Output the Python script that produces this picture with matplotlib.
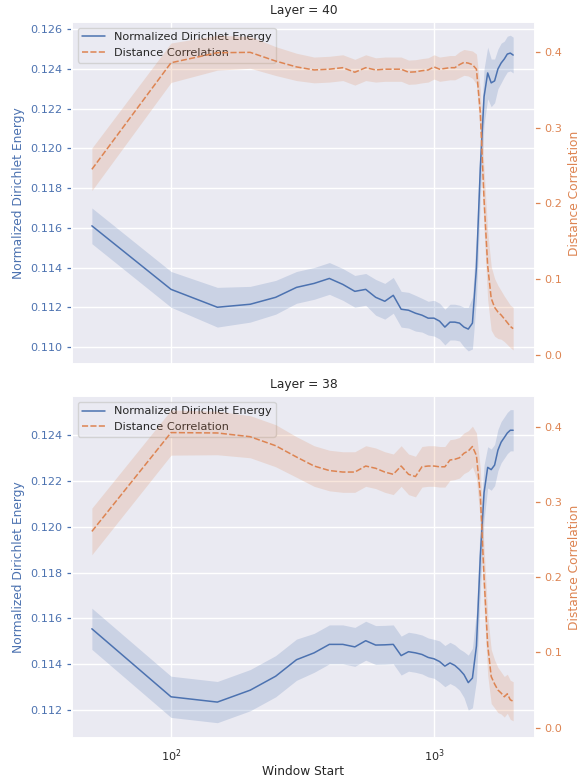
import matplotlib
matplotlib.use("Agg")
import numpy as np
import seaborn as sns
from matplotlib import pyplot as plt

sns.set_theme(style="darkgrid")
plt.rcParams['font.family'] = ['DejaVu Sans']

BLUE = "#4C72B0"
ORANGE = "#DD8452"

window_start = [50, 100, 150, 200, 250, 300, 350, 400, 450, 500,
                550, 600, 650, 700, 750, 800, 850, 900, 950, 1000,
                1050, 1100, 1150, 1200, 1250, 1300, 1350, 1400, 1450, 1500,
                1550, 1600, 1650, 1700, 1750, 1800, 1850, 1900, 1950, 2000]

# Layer 40
energy_40 = [0.1161, 0.1129, 0.1120, 0.11215, 0.1125, 0.1130, 0.1132, 0.11345, 0.11315, 0.1128,
             0.1129, 0.1125, 0.1123, 0.1126, 0.1119, 0.11185, 0.1117, 0.1116, 0.11145, 0.11145,
             0.1113, 0.1110, 0.11125, 0.11125, 0.1112, 0.1110, 0.1109, 0.1112, 0.1140, 0.1190,
             0.1226, 0.1238, 0.1233, 0.1234, 0.1240, 0.1243, 0.1245, 0.12475, 0.1248, 0.1247]
energy_40_err = [0.0009, 0.0009, 0.0010, 0.0009, 0.00085, 0.0008, 0.0008, 0.0008, 0.0008, 0.0008,
                 0.0008, 0.0009, 0.0009, 0.0009, 0.0009, 0.0009, 0.0009, 0.00085, 0.00085, 0.0009,
                 0.0009, 0.0009, 0.0009, 0.0009, 0.0009, 0.0010, 0.0011, 0.0013, 0.0016, 0.0016,
                 0.0014, 0.0013, 0.0012, 0.0011, 0.0010, 0.0010, 0.0009, 0.0009, 0.0009, 0.0009]
dcor_40 = [0.245, 0.3855, 0.3987, 0.3992, 0.3877, 0.380, 0.376, 0.377, 0.379, 0.373,
           0.379, 0.376, 0.377, 0.377, 0.377, 0.373, 0.3735, 0.375, 0.376, 0.380,
           0.377, 0.378, 0.379, 0.379, 0.383, 0.386, 0.385, 0.383, 0.377, 0.320,
           0.205, 0.118, 0.075, 0.063, 0.057, 0.053, 0.048, 0.043, 0.038, 0.035]
dcor_40_err = [0.028, 0.026, 0.023, 0.021, 0.019, 0.018, 0.017, 0.017, 0.017, 0.017,
               0.017, 0.016, 0.016, 0.016, 0.016, 0.016, 0.016, 0.016, 0.016, 0.016,
               0.016, 0.016, 0.016, 0.016, 0.017, 0.017, 0.017, 0.018, 0.020, 0.030,
               0.040, 0.045, 0.042, 0.038, 0.035, 0.032, 0.030, 0.029, 0.028, 0.028]

# Layer 38
energy_38 = [0.11555, 0.11258, 0.11235, 0.11287, 0.11348, 0.1142, 0.1145, 0.11487, 0.11487, 0.11476,
             0.11503, 0.11484, 0.11485, 0.11487, 0.11438, 0.11455, 0.1145, 0.11443, 0.1143, 0.11424,
             0.11412, 0.11392, 0.11406, 0.11395, 0.11377, 0.11355, 0.1132, 0.1134, 0.1148, 0.1187,
             0.1215, 0.1226, 0.1225, 0.1227, 0.12335, 0.1237, 0.1239, 0.1241, 0.12422, 0.12422]
energy_38_err = [0.0009, 0.0009, 0.0009, 0.0009, 0.0009, 0.0009, 0.00085, 0.00085, 0.00085, 0.00085,
                 0.00085, 0.00085, 0.00085, 0.00085, 0.00085, 0.00085, 0.00085, 0.00085, 0.00085, 0.00085,
                 0.0009, 0.0009, 0.0009, 0.0009, 0.0009, 0.0010, 0.0012, 0.0013, 0.0015, 0.0015,
                 0.0012, 0.0009, 0.0009, 0.0009, 0.0009, 0.0009, 0.0009, 0.0009, 0.0009, 0.0009]
dcor_38 = [0.261, 0.3925, 0.392, 0.387, 0.375, 0.360, 0.348, 0.342, 0.340, 0.340,
           0.348, 0.345, 0.340, 0.337, 0.348, 0.337, 0.334, 0.347, 0.348, 0.348,
           0.347, 0.347, 0.356, 0.357, 0.359, 0.365, 0.368, 0.374, 0.362, 0.310,
           0.200, 0.110, 0.068, 0.058, 0.050, 0.046, 0.041, 0.045, 0.037, 0.035]
dcor_38_err = [0.031, 0.030, 0.029, 0.028, 0.028, 0.027, 0.027, 0.027, 0.027, 0.027,
               0.027, 0.027, 0.027, 0.027, 0.027, 0.027, 0.027, 0.027, 0.027, 0.027,
               0.027, 0.027, 0.027, 0.027, 0.027, 0.027, 0.027, 0.027, 0.030, 0.035,
               0.040, 0.040, 0.036, 0.032, 0.030, 0.028, 0.027, 0.026, 0.026, 0.026]

panels = [
    ("Layer = 40", energy_40, energy_40_err, dcor_40, dcor_40_err,
     (0.10913, 0.12635), (-0.0119, 0.4388), np.arange(0.110, 0.1265, 0.002)),
    ("Layer = 38", energy_38, energy_38_err, dcor_38, dcor_38_err,
     (0.11077, 0.1257), (-0.0142, 0.4407), np.arange(0.112, 0.1245, 0.002)),
]

fig, axes = plt.subplots(2, 1, figsize=(5.85, 7.8), dpi=100, sharex=True)
fig.subplots_adjust(left=0.123, right=0.9145, top=0.9714, bottom=0.0535, hspace=0.094)

x = np.array(window_start)

for ax, (title, de, de_err, dc, dc_err, ylim1, ylim2, yt) in zip(axes, panels):
    de = np.array(de)
    de_err = np.array(de_err)
    dc = np.array(dc)
    dc_err = np.array(dc_err)

    ax.set_xscale("log")
    l1, = ax.plot(x, de, color=BLUE, lw=1.1, label="Normalized Dirichlet Energy")
    ax.fill_between(x, de - de_err, de + de_err, color=BLUE, alpha=0.2, lw=0)
    ax.set_ylim(*ylim1)
    ax.set_yticks(yt)
    ax.set_ylabel("Normalized Dirichlet Energy", color=BLUE, fontsize=8.8)
    ax.tick_params(axis="y", colors=BLUE, left=True, length=3.5, width=0.9, labelsize=8.1)
    ax.tick_params(axis="x", which="both", labelsize=8.1, pad=0.5)
    ax.set_title(title, fontsize=8.8)

    ax2 = ax.twinx()
    l2, = ax2.plot(x, dc, color=ORANGE, lw=1.1, ls="--", dashes=(4, 1.5),
                   label="Distance Correlation")
    ax2.fill_between(x, dc - dc_err, dc + dc_err, color=ORANGE, alpha=0.2, lw=0)
    ax2.set_ylim(*ylim2)
    ax2.set_yticks([0.0, 0.1, 0.2, 0.3, 0.4])
    ax2.grid(False)
    ax2.set_ylabel("Distance Correlation", color=ORANGE, fontsize=8.8)
    ax2.tick_params(axis="y", colors=ORANGE, right=True, length=3.5, width=0.9, labelsize=8.1)

    ax.legend([l1, l2], [l1.get_label(), l2.get_label()], loc="upper left", fontsize=8.1)

axes[0].set_xlim(42, 2421)
axes[1].set_xlabel("Window Start", fontsize=8.8, labelpad=1)

plt.savefig("out.png", dpi=100)
